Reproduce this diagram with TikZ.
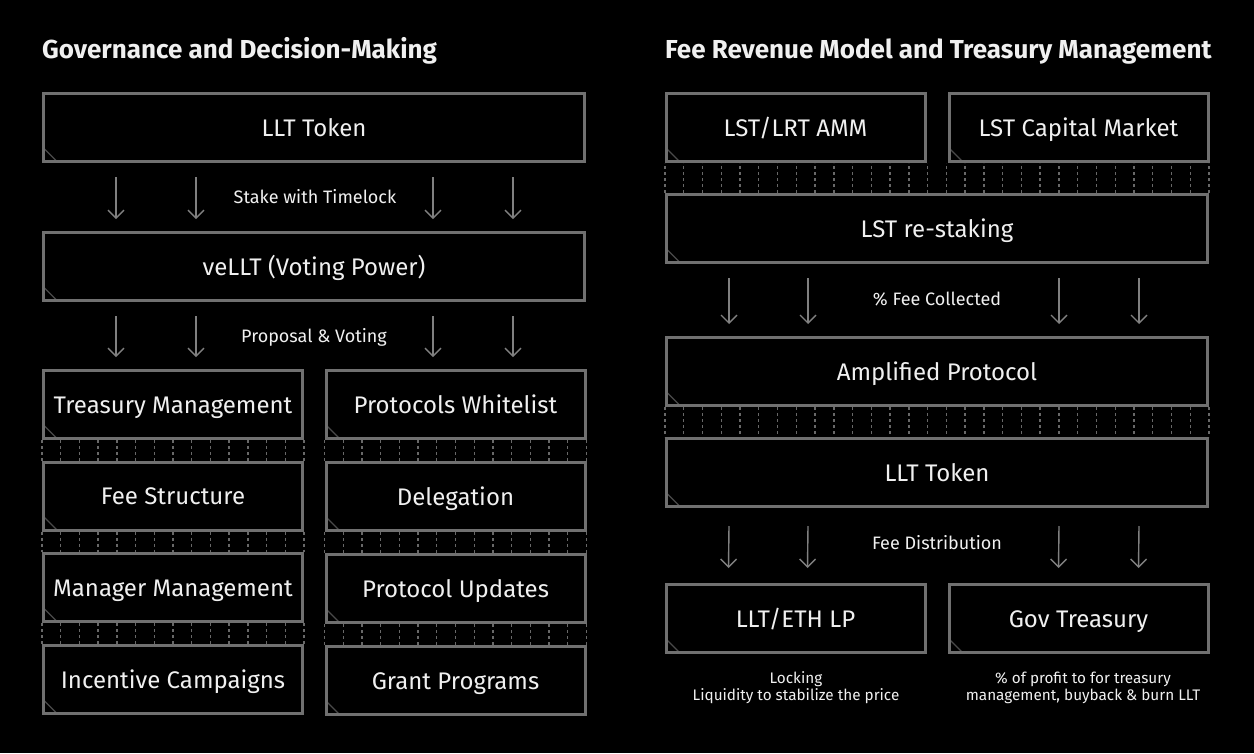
\documentclass[tikz,border=0pt]{standalone}
\usepackage{fontspec}
\setmainfont{Fira Sans}
\usetikzlibrary{arrows.meta,calc}
\definecolor{bordergrey}{HTML}{707070}
\definecolor{dotgrey}{HTML}{686868}
\definecolor{cornergrey}{HTML}{4A4A4A}
\definecolor{txt}{HTML}{F0F0F0}
\definecolor{arrgrey}{HTML}{808080}
\newcommand\dotlink[3]{%
  \foreach \i in {0,...,#3} {
    \draw[dotline] ($(#1.south west)!\i/#3!(#1.south east)$) -- ($(#2.north west)!\i/#3!(#2.north east)$);
  }}
\begin{document}
\begin{tikzpicture}[x=1pt,y=-1pt,
  box/.style={draw=bordergrey, line width=3pt, minimum height=68pt, inner sep=0pt,
    text=txt, font=\fontsize{24}{28}\selectfont, text height=17pt, text depth=0pt,
    path picture={\draw[cornergrey, line width=1.2pt]
      ([shift={(0pt,13.5pt)}]path picture bounding box.south west) --
      ([shift={(13.5pt,0pt)}]path picture bounding box.south west);}},
  wide/.style={box, minimum width=541pt},
  half/.style={box, minimum width=259pt},
  dotline/.style={draw=dotgrey, line width=1.4pt, dash pattern=on 3pt off 3pt},
  arr/.style={draw=arrgrey, line width=1.4pt, -{Straight Barb[length=8pt,width=16pt]}},
  lbl/.style={text=txt, font=\fontsize{18}{21}\selectfont, inner sep=0pt, text height=13pt, text depth=0pt},
  captxt/.style={text=txt, font=\fontsize{15.3}{17}\selectfont, inner sep=0pt, align=center},
  ttl/.style={text=txt, font=\fontsize{26}{30}\selectfont\bfseries, inner sep=0pt, anchor=base west}
]
\fill[black] (0,0) rectangle (1254,753);
\useasboundingbox (0,0) rectangle (1254,753);

% titles
\node[ttl] (t1) at (42,58) {Governance and Decision-Making};
\node[ttl] (t2) at (665,58) {Fee Revenue Model and Treasury Management};

% left column
\node[wide] (L1) at (314,127.5) {LLT Token};
\node[wide] (L2) at (314,266.5) {veLLT (Voting Power)};
\node[half] (L3a) at (173,404.5) {Treasury Management};
\node[half] (L3b) at (455.5,404.5) {Protocols Whitelist};
\node[half] (L4a) at (173,496) {Fee Structure};
\node[half] (L4b) at (455.5,496.5) {Delegation};
\node[half] (L5a) at (173,587.5) {Manager Management};
\node[half] (L5b) at (455.5,588.5) {Protocol Updates};
\node[half] (L6a) at (173,679.5) {Incentive Campaigns};
\node[half] (L6b) at (455.5,680.5) {Grant Programs};

\foreach \dx in {74,154,391,471}
  \draw[arr] ($(L1.south west)+(\dx,14)$) -- ($(L2.north west)+(\dx,-12)$);
\node[lbl] (s1) at (315,197) {Stake with Timelock};
\foreach \dx in {74,154,391,471}
  \draw[arr] ($(L2.south west)+(\dx,14)$) -- ($(L3a.north west)+(\dx,-12)$);
\node[lbl] (s2) at (314,336) {Proposal \& Voting};

\dotlink{L3a}{L4a}{14}
\dotlink{L4a}{L5a}{14}
\dotlink{L5a}{L6a}{14}
\dotlink{L3b}{L4b}{14}
\dotlink{L4b}{L5b}{14}
\dotlink{L5b}{L6b}{14}

% right column
\node[half] (R1a) at (795.5,127.5) {LST/LRT AMM};
\node[half] (R1b) at (1078.5,127.5) {LST Capital Market};
\node[wide] (R2) at (937,228.5) {LST re-staking};
\node[wide] (R3) at (937,371.5) {Amplified Protocol};
\node[wide] (R4) at (937,472.5) {LLT Token};
\node[half] (R5a) at (795.5,618.5) {LLT/ETH LP};
\node[half] (R5b) at (1078.5,618.5) {Gov Treasury};

\foreach \i in {0,...,29} {
  \coordinate (p) at ($(R2.north west)!\i/29!(R2.north east)$);
  \draw[dotline] (p) -- (p |- R1a.south);
}
\dotlink{R3}{R4}{29}

\foreach \dx in {64,143,394,474}
  \draw[arr] ($(R2.south west)+(\dx,14)$) -- ($(R3.north west)+(\dx,-12)$);
\node[lbl] (s3) at (937,299) {\% Fee Collected};
\foreach \dx in {64,143,394,474}
  \draw[arr] ($(R4.south west)+(\dx,18)$) -- ($(R5a.north west)+(\dx,-15)$);
\node[lbl] (s4) at (937,543) {Fee Distribution};

\node[captxt] (c1) at (796,688) {Locking\\Liquidity to stabilize the price};
\node[captxt] (c2) at (1083,688) {\% of profit to for treasury\\management, buyback \& burn LLT};
\end{tikzpicture}
\end{document}
